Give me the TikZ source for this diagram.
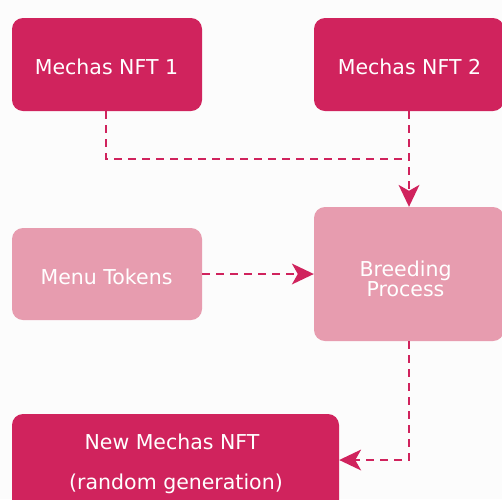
\documentclass[tikz,border=0pt]{standalone}
\usepackage{fontspec}
\setmainfont{DejaVu Sans}
\usetikzlibrary{arrows.meta}
\definecolor{darkpink}{HTML}{D0235D}
\definecolor{lightpink}{HTML}{E79CAF}
\definecolor{bg}{HTML}{FCFCFC}
\begin{document}
\begin{tikzpicture}[x=1pt,y=-1pt,
  box/.style={rounded corners=11pt, inner sep=0pt},
  darkbox/.style={box, fill=darkpink},
  lightbox/.style={box, fill=lightpink},
  lbl/.style={text=white, inner sep=0pt, font=\fontsize{20.5}{20.5}\selectfont, align=center},
  conn/.style={draw=darkpink, line width=2pt, dash pattern=on 8pt off 6pt},
  arr/.style={conn, -{Stealth[length=22pt,width=21pt,inset=6pt,fill=darkpink,line width=0pt]}}]
\useasboundingbox (0,0) rectangle (502,499);
\fill[bg] (0,0) rectangle (502,499);
\begin{scope}
\clip (0,0) rectangle (502,499);
\node[darkbox, minimum width=190pt, minimum height=93pt] (nft1) at (107,64.5) {};
\node[darkbox, minimum width=190pt, minimum height=93pt] (nft2) at (409,64.5) {};
\node[lightbox, minimum width=190pt, minimum height=92pt] (menu) at (107,274) {};
\node[lightbox, minimum width=190pt, minimum height=134pt] (breed) at (409,274) {};
\node[darkbox, minimum width=327pt, minimum height=110pt] (new) at (175.5,469) {};
\end{scope}
\node[lbl] (t1) at (106.5,67) {Mechas NFT 1};
\node[lbl] (t2) at (409.5,67) {Mechas NFT 2};
\node[lbl] (t3) at (106.5,277) {Menu Tokens};
\node[lbl] (t4) at (405.5,279) {Breeding\\Process};
\node[lbl] (t5) at (172,442) {New Mechas NFT};
\node[lbl] (t6) at (176,484) {(random generation)};
\coordinate (j) at (409,159);
\draw[conn] (nft1.south -| 106,0) |- (j);
\draw[arr] (nft2.south) -- (breed.north);
\draw[arr] (menu.east) -- (breed.west);
\draw[arr] (breed.south) |- (new.east |- 0,460);
\end{tikzpicture}
\end{document}
